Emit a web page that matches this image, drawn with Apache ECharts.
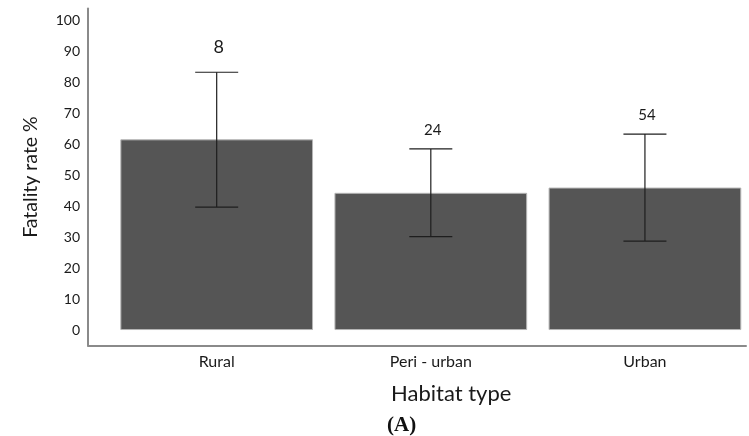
<!DOCTYPE html>
<html>
<head>
<meta charset="utf-8">
<script src="https://cdn.jsdelivr.net/npm/echarts@6/dist/echarts.min.js"></script>
<style>
html,body{margin:0;padding:0;background:#fff;}
#c{width:749px;height:436px;}
</style>
</head>
<body>
<div id="c"></div>
<script>
var categories = ['Rural', 'Peri - urban', 'Urban'];
var fatalityRate = [61.7, 44.4, 46.1];
var errLow = [39.8, 30.2, 28.8];
var errHigh = [83.4, 58.6, 63.4];
var sampleSize = [8, 24, 54];
var yTickLabels = [0, 10, 20, 30, 40, 50, 60, 70, 80, 90, 100];

var FONT = 'Lato, "Open Sans", sans-serif';
var chart = echarts.init(document.getElementById('c'), null, {renderer: 'canvas'});

var barData = fatalityRate.map(function (v, i) { return [i, v]; });
var errData = errLow.map(function (lo, i) { return [i, lo, errHigh[i], sampleSize[i]]; });

chart.setOption({
  animation: false,
  backgroundColor: '#ffffff',
  title: [
    {text: 'Habitat type', left: 386, top: 378,
     textStyle: {fontFamily: FONT, fontSize: 22, fontWeight: 'normal', color: '#1a1a1a'}},
    {text: '(A)', left: 382, top: 410,
     textStyle: {fontFamily: '"Liberation Serif", serif', fontSize: 21, fontWeight: 'bold', color: '#111'}}
  ],
  grid: {left: 88, right: 0, top: 8.6, bottom: 90.5, containLabel: false},
  xAxis: {
    type: 'value',
    min: -0.601,
    max: 2.472,
    splitLine: {show: false},
    axisTick: {show: false},
    axisLine: {show: true, onZero: false, lineStyle: {color: '#8a8a8a', width: 2}},
    axisLabel: {
      color: '#1a1a1a', fontFamily: FONT, fontSize: 16, margin: 8,
      showMinLabel: true, showMaxLabel: true,
      formatter: function (v) {
        var r = Math.round(v);
        if (Math.abs(v - r) < 1e-6 && r >= 0 && r < categories.length) return categories[r];
        return '';
      }
    }
  },
  yAxis: {
    type: 'value',
    min: -5,
    max: 104,
    interval: 5,
    splitLine: {show: false},
    axisTick: {show: false},
    axisLine: {show: true, onZero: false, lineStyle: {color: '#8a8a8a', width: 2}},
    axisLabel: {
      color: '#1a1a1a', fontFamily: FONT, fontSize: 14, margin: 8,
      formatter: function (v) {
        return yTickLabels.indexOf(Math.round(v)) >= 0 && Math.abs(v - Math.round(v)) < 1e-6 ? String(Math.round(v)) : '';
      }
    },
    name: 'Fatality rate %',
    nameLocation: 'middle',
    nameGap: 47,
    nameRotate: 90,
    nameTextStyle: {fontFamily: FONT, fontSize: 19.5, color: '#1a1a1a'}
  },
  series: [
    {
      type: 'bar',
      data: barData,
      barWidth: '90%',
      itemStyle: {color: '#555555', borderColor: '#b5b5b5', borderWidth: 1}
    },
    {
      type: 'custom',
      data: errData,
      z: 10,
      renderItem: function (params, api) {
        var x = api.value(0);
        var lo = api.coord([x, api.value(1)]);
        var hi = api.coord([x, api.value(2)]);
        var half = 21.5;
        var big = params.dataIndex === 0;
        var style = {stroke: '#1e1e1e', lineWidth: 1.2};
        return {
          type: 'group',
          children: [
            {type: 'line', shape: {x1: hi[0], y1: hi[1], x2: lo[0], y2: lo[1]}, style: style},
            {type: 'line', shape: {x1: hi[0] - half, y1: hi[1], x2: hi[0] + half, y2: hi[1]}, style: style},
            {type: 'line', shape: {x1: lo[0] - half, y1: lo[1], x2: lo[0] + half, y2: lo[1]}, style: style},
            {type: 'text', x: hi[0] + 2, y: hi[1] - (big ? 25 : 19),
             style: {text: String(api.value(3)), fill: '#1a1a1a', fontFamily: FONT,
                     fontSize: big ? 18 : 15, align: 'center', verticalAlign: 'middle'}}
          ]
        };
      }
    }
  ]
});
</script>
</body>
</html>
